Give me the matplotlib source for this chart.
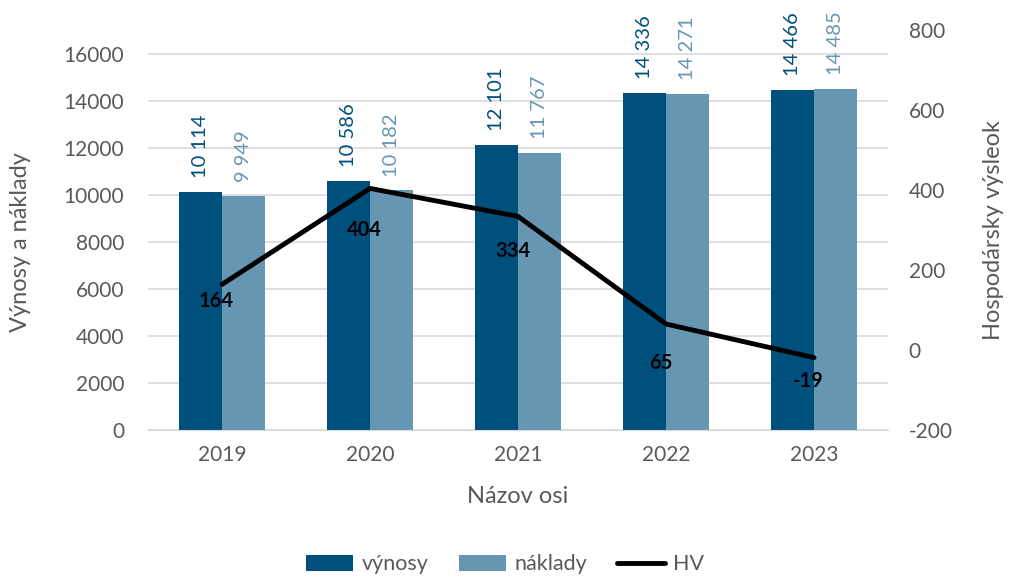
import matplotlib
matplotlib.use('Agg')
import matplotlib.pyplot as plt
import numpy as np

plt.rcParams['font.family'] = ['Lato', 'DejaVu Sans']
plt.rcParams['axes.unicode_minus'] = False

years = ['2019', '2020', '2021', '2022', '2023']
vynosy = [10114, 10586, 12101, 14336, 14466]
naklady = [9949, 10182, 11767, 14271, 14485]
hv = [164, 404, 334, 65, -19]

dark = '#00507D'
light = '#6796B3'
grey = '#595959'

# label offsets (points) for HV values
hv_offsets = [-12, -30, -25, -28, -17]

def fmt(v):
    return '{:,}'.format(v).replace(',', ' ')

fig = plt.figure(figsize=(10.1, 5.82), dpi=100)
ax1 = fig.add_axes([148/1010, 1 - 430/582, 740/1010, 400/582])
ax2 = ax1.twinx()

x = np.arange(len(years))
w = 0.29
b1 = ax1.bar(x - w/2, vynosy, w, color=dark, label='výnosy', zorder=2)
b2 = ax1.bar(x + w/2, naklady, w, color=light, label='náklady', zorder=2)

for xi, v in zip(x, vynosy):
    ax1.annotate(fmt(v), (xi - w/2, v), xytext=(0, 10), textcoords='offset points',
                 rotation=90, ha='center', va='bottom', color=dark, fontsize=14.5)
for xi, v in zip(x, naklady):
    ax1.annotate(fmt(v), (xi + w/2, v), xytext=(0, 10), textcoords='offset points',
                 rotation=90, ha='center', va='bottom', color=light, fontsize=14.5)

ax1.set_ylim(0, 17000)
ax1.set_yticks(range(0, 16001, 2000))
ax1.set_xlim(-0.5, 4.5)
ax1.set_xticks(x)
ax1.set_xticklabels(years)
ax1.grid(axis='y', color='#D9D9D9', linewidth=1.2, zorder=0)
ax1.set_axisbelow(True)

line, = ax2.plot(x, hv, color='black', linewidth=3.5, label='HV', zorder=3,
                 solid_capstyle='round')
for xi, v, off in zip(x, hv, hv_offsets):
    ax2.annotate(str(v), (xi, v), xytext=(-4, off), textcoords='offset points',
                 ha='center', va='center', fontsize=14.5, fontweight='bold', color='black')
ax2.set_ylim(-200, 800)
ax2.set_yticks(range(-200, 801, 200))

for ax in (ax1, ax2):
    for s in ax.spines.values():
        s.set_visible(False)
    ax.tick_params(length=0, labelsize=15, colors=grey)
ax1.tick_params(axis='y', pad=17)
ax1.tick_params(axis='x', pad=11)
ax2.tick_params(axis='y', pad=15)
ax1.spines['bottom'].set_visible(True)
ax1.spines['bottom'].set_color('#D9D9D9')

ax1.set_ylabel('Výnosy a náklady', fontsize=17, color=grey)
ax1.yaxis.set_label_coords(-0.158, 0.47)
ax2.set_ylabel('Hospodársky výsleok', fontsize=17, color=grey)
ax2.yaxis.set_label_coords(1.128, 0.5)
ax1.set_xlabel('Názov osi', fontsize=17, color=grey)
ax1.xaxis.set_label_coords(0.5, -0.14)

fig.legend(handles=[b1, b2, line], loc='lower center', bbox_to_anchor=(0.5, -0.02),
           ncol=3, frameon=False, fontsize=15.5, labelcolor=grey, handlelength=2.2,
           handleheight=0.75, columnspacing=1.4, handletextpad=0.4)

plt.savefig('out.png', dpi=100)
